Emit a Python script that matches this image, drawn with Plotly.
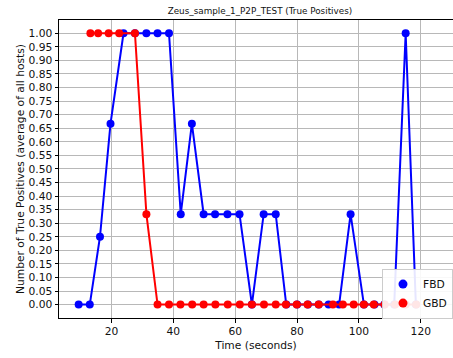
import plotly.graph_objects as go

# FBD series (blue)
fbd_time = [9.4, 13.0, 16.3, 19.7, 23.9, 27.6, 31.3, 34.9, 38.6, 42.4, 46.0, 49.8,
            53.5, 57.5, 61.4, 65.4, 69.2, 73.1, 76.5, 80.0, 83.5, 87.0, 90.2, 93.6,
            97.3, 101.6, 105.0, 108.2, 111.4, 115.1, 118.4]
fbd_vals = [0.0, 0.0, 0.25, 0.6667, 1.0, 1.0, 1.0, 1.0, 1.0, 0.3333, 0.6667, 0.3333,
            0.3333, 0.3333, 0.3333, 0.0, 0.3333, 0.3333, 0.0, 0.0, 0.0, 0.0, 0.0, 0.0,
            0.3333, 0.0, 0.0, 0.0, 0.0, 1.0, 0.0]

# GBD series (red)
gbd_time = [13.2, 15.7, 19.1, 22.5, 27.6, 31.3, 34.9, 38.6, 42.3, 46.1, 49.8, 53.6,
            57.6, 61.5, 65.4, 69.3, 73.1, 76.4, 79.9, 83.4, 87.0, 91.6, 94.8, 98.3,
            101.6, 104.8, 108.3, 111.7, 115.1, 118.5]
gbd_vals = [1.0, 1.0, 1.0, 1.0, 1.0, 0.3333, 0.0, 0.0, 0.0, 0.0, 0.0, 0.0,
            0.0, 0.0, 0.0, 0.0, 0.0, 0.0, 0.0, 0.0, 0.0, 0.0, 0.0, 0.0,
            0.0, 0.0, 0.0, 0.0, 0.0, 0.0]

title_text = "Zeus_sample_1_P2P_TEST (True Positives)"
x_label = "Time (seconds)"
y_label = "Number of True Positives (average of all hosts)"

FONT = "DejaVu Sans"
FS = 10.7

fig = go.Figure()
fig.add_trace(go.Scatter(x=fbd_time, y=fbd_vals, mode="lines+markers",
                         line=dict(color="#0000ff", width=2),
                         marker=dict(color="#0000ff", size=8),
                         showlegend=False, hoverinfo="skip"))
fig.add_trace(go.Scatter(x=gbd_time, y=gbd_vals, mode="lines+markers",
                         line=dict(color="#ff0000", width=2),
                         marker=dict(color="#ff0000", size=8),
                         showlegend=False, hoverinfo="skip"))
# legend-only entries (markers only, like the reference)
fig.add_trace(go.Scatter(x=[None], y=[None], mode="markers", name="FBD",
                         marker=dict(color="#0000ff", size=9)))
fig.add_trace(go.Scatter(x=[None], y=[None], mode="markers", name="GBD",
                         marker=dict(color="#ff0000", size=9)))

fig.update_layout(
    width=453, height=358,
    margin=dict(l=59, r=0, t=20, b=40, autoexpand=False),
    plot_bgcolor="white", paper_bgcolor="white",
    font=dict(family=FONT, size=FS, color="#111111"),
    title=dict(text=title_text, font=dict(family=FONT, size=8.8, color="#111111"),
               x=0.51, xref="paper", xanchor="center",
               y=1 - 11 / 358, yref="container", yanchor="middle"),
    legend=dict(x=1.0, y=0.082, xanchor="right", yanchor="middle",
                bgcolor="rgba(255,255,255,0.9)", bordercolor="#cccccc", borderwidth=1,
                font=dict(family=FONT, size=FS, color="#111111"),
                tracegroupgap=0, itemsizing="trace"),
    showlegend=True,
)

fig.update_xaxes(
    range=[3.05, 130.4], tickmode="linear", tick0=0, dtick=20,
    showgrid=True, gridcolor="#b8b8b8", gridwidth=1, zeroline=False,
    showline=True, linecolor="black", linewidth=1, mirror=True,
    ticks="outside", ticklen=3.5, tickcolor="black", automargin=False,
    title=dict(text=x_label, standoff=4, font=dict(family=FONT, size=FS)),
)
fig.update_yaxes(
    range=[-0.0495, 1.049], tickmode="linear", tick0=0, dtick=0.05, tickformat=".2f",
    showgrid=True, gridcolor="#b8b8b8", gridwidth=1, zeroline=False,
    showline=True, linecolor="black", linewidth=1, mirror=False,
    ticks="outside", ticklen=3.5, tickcolor="black", automargin=False,
    title=dict(text=y_label, standoff=1, font=dict(family=FONT, size=FS)),
)

fig.write_html("out.html")
